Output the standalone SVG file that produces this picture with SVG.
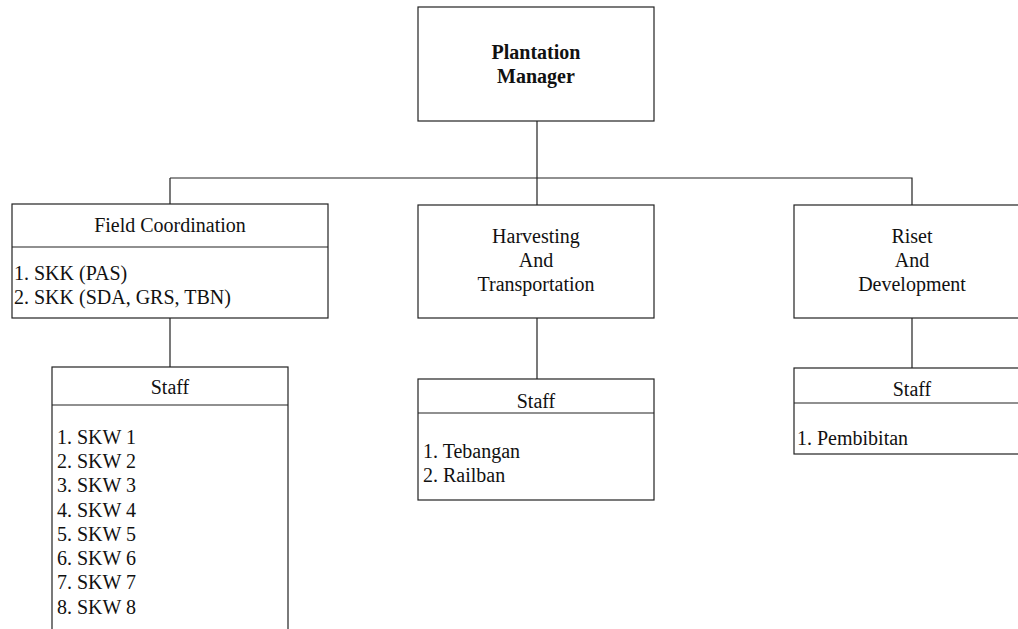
<svg xmlns="http://www.w3.org/2000/svg" width="1018" height="629" viewBox="0 0 1018 629">
<style>
.box{fill:#fff;stroke:#222;stroke-width:1.2}
.ln{fill:none;stroke:#222;stroke-width:1.2}
text{font-family:'Liberation Serif','DejaVu Serif','Times New Roman',serif;font-size:20px;fill:#111}
.c{text-anchor:middle}
.b{font-weight:bold}
</style>
<rect width="1018" height="629" fill="#fff"/>
<g id="connectors">
<path class="ln" d="M537 121V205M170 178H912V205M170 178V205M170 318V367M537 318V379M912 318V368"/>
</g>
<g id="manager">
<rect class="box" x="418" y="7" width="236" height="114"/>
<text class="c b" x="536" y="59">Plantation</text>
<text class="c b" x="536" y="83">Manager</text>
</g>
<g id="field">
<rect class="box" x="12" y="204" width="316" height="114"/>
<line class="ln" x1="12" y1="247" x2="328" y2="247"/>
<text class="c" x="170" y="232">Field Coordination</text>
<text x="14" y="280">1. SKK (PAS)</text>
<text x="14" y="304">2. SKK (SDA, GRS, TBN)</text>
</g>
<g id="harvesting">
<rect class="box" x="418" y="205" width="236" height="113"/>
<text class="c" x="536" y="243">Harvesting</text>
<text class="c" x="536" y="267">And</text>
<text class="c" x="536" y="291">Transportation</text>
</g>
<g id="riset">
<rect class="box" x="794" y="205" width="236" height="113"/>
<text class="c" x="912" y="243">Riset</text>
<text class="c" x="912" y="267">And</text>
<text class="c" x="912" y="291">Development</text>
</g>
<g id="staff-field">
<rect class="box" x="52" y="367" width="236" height="280"/>
<line class="ln" x1="52" y1="405" x2="288" y2="405"/>
<text class="c" x="170" y="394">Staff</text>
<text x="57" y="444">1. SKW 1</text>
<text x="57" y="468">2. SKW 2</text>
<text x="57" y="492">3. SKW 3</text>
<text x="57" y="517">4. SKW 4</text>
<text x="57" y="541">5. SKW 5</text>
<text x="57" y="565">6. SKW 6</text>
<text x="57" y="589">7. SKW 7</text>
<text x="57" y="614">8. SKW 8</text>
</g>
<g id="staff-harvesting">
<rect class="box" x="418" y="379" width="236" height="121"/>
<line class="ln" x1="418" y1="413" x2="654" y2="413"/>
<text class="c" x="536" y="408">Staff</text>
<text x="423" y="458">1. Tebangan</text>
<text x="423" y="482">2. Railban</text>
</g>
<g id="staff-riset">
<rect class="box" x="794" y="368" width="236" height="86"/>
<line class="ln" x1="794" y1="403" x2="1030" y2="403"/>
<text class="c" x="912" y="396">Staff</text>
<text x="797" y="445">1. Pembibitan</text>
</g>
</svg>
